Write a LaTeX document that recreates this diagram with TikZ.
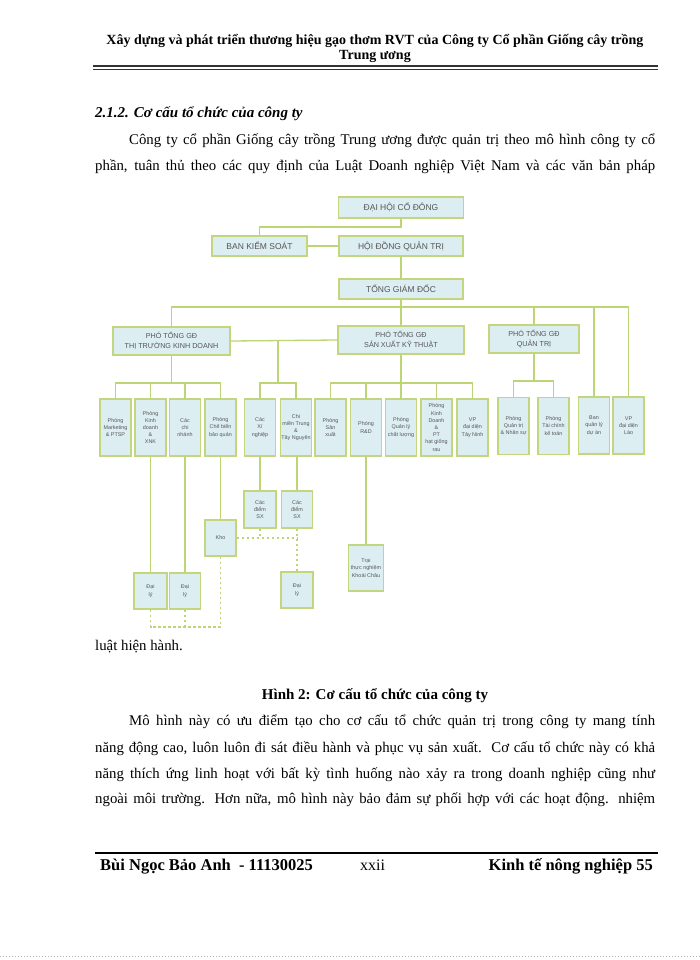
\documentclass[tikz,border=0pt]{standalone}
\usepackage{fontspec}
\setmainfont{Liberation Serif}
\setsansfont{Liberation Sans}
\definecolor{fillcol}{HTML}{DDEEF2}
\definecolor{bdcol}{HTML}{C2D67E}
\definecolor{lncol}{HTML}{BDD574}
\definecolor{txtcol}{HTML}{555555}
\newcommand\myfs[1]{\fontsize{#1}{#1}\selectfont}
\tikzset{
  box/.style={draw=bdcol, fill=fillcol, line width=1.1pt, inner sep=0pt, align=center,
    text=txtcol, font=\sffamily\fontsize{5.4}{7.2}\selectfont},
  bigbox/.style={box, font=\sffamily\fontsize{8.5}{10}\selectfont},
  midbox/.style={box, font=\sffamily\fontsize{7.2}{10.5}\selectfont},
  rowbox/.style={box, minimum width=31pt, minimum height=57pt},
  conn/.style={draw=lncol, line width=1.3pt},
  dconn/.style={draw=lncol, line width=1.1pt, dash pattern=on 2.5pt off 2.5pt},
  bodyl/.style={anchor=base west, inner sep=0pt, font=\myfs{14.8}},
}
\begin{document}
\begin{tikzpicture}[x=1pt,y=-1pt]
\useasboundingbox (0,0) rectangle (700,960);
\fill[white] (0,0) rectangle (700,960);

% ---------- header ----------
\node[anchor=base, inner sep=0pt, font=\bfseries\myfs{14}] (h1) at (375,45)
  {Xây dựng và phát triển thương hiệu gạo thơm RVT của Công ty Cổ phần Giống cây trồng};
\node[anchor=base, inner sep=0pt, font=\bfseries\myfs{14}] (h2) at (375,60) {Trung ương};
\draw[black!80, line width=1.3pt] (93,66) -- (658,66);
\draw[black!80, line width=0.6pt] (93,69) -- (658,69);

% ---------- section text ----------
\node[anchor=base west, inner sep=0pt, font=\bfseries\itshape\myfs{15}] (sec) at (95,118)
  {2.1.2. Cơ cấu tổ chức của công ty};
\node[bodyl] (p1a) at (129,145) {\makebox[526pt][s]{Công ty cổ phần Giống cây trồng Trung ương được quản trị theo mô hình công ty cổ}};
\node[bodyl] (p1b) at (95,171) {\makebox[560pt][s]{phần, tuân thủ theo các quy định của Luật Doanh nghiệp Việt Nam và các văn bản pháp}};

% ---------- chart: top ----------
\node[bigbox, minimum width=125pt, minimum height=21pt] (dhcd) at (401,207.5) {ĐẠI HỘI CỔ ĐÔNG};
\node[bigbox, minimum width=95pt, minimum height=20pt] (bks) at (259.5,246) {BAN KIỂM SOÁT};
\node[bigbox, minimum width=124pt, minimum height=20pt] (hdqt) at (401,246) {HỘI ĐỒNG QUẢN TRỊ};
\node[bigbox, minimum width=124pt, minimum height=20pt] (tgd) at (401,289) {TỔNG GIÁM ĐỐC};

\node[midbox, minimum width=117pt, minimum height=28pt] (pa) at (171.5,341) {PHÓ TỔNG GĐ\\THỊ TRƯỜNG KINH DOANH};
\node[midbox, minimum width=126pt, minimum height=28pt] (pb) at (401,340) {PHÓ TỔNG GĐ\\SẢN XUẤT KỸ THUẬT};
\node[midbox, minimum width=90pt, minimum height=28pt] (pc) at (534,339) {PHÓ TỔNG GĐ\\QUẢN TRỊ};

% ---------- chart: row of departments ----------
\node[rowbox] (b1) at (115.5,427.5) {Phòng\\Marketing\\\& PTSP};
\node[rowbox] (b2) at (150.5,427.5) {Phòng\\Kinh\\doanh\\\&\\XNK};
\node[rowbox] (b3) at (185,427.5) {Các\\chi\\nhánh};
\node[rowbox] (b4) at (220.5,427.5) {Phòng\\Chế biến\\bảo quản};
\node[rowbox] (b5) at (260,427.5) {Các\\Xí\\nghiệp};
\node[rowbox] (b6) at (296,427.5) {Chi\\miền Trung\\\&\\Tây Nguyên};
\node[rowbox] (b7) at (330.5,427.5) {Phòng\\Sản\\xuất};
\node[rowbox] (b8) at (366,427.5) {Phòng\\R\&D};
\node[rowbox] (b9) at (401,427.5) {Phòng\\Quản lý\\chất lượng};
\node[rowbox] (b10) at (436.5,427.5) {Phòng\\Kinh\\Doanh\\\&\\PT\\hạt giống\\rau};
\node[rowbox] (b11) at (472.5,427.5) {VP\\đại diện\\Tây Ninh};
\node[rowbox] (b12) at (513.5,426) {Phòng\\Quản trị\\\& Nhân sự};
\node[rowbox] (b13) at (553.5,426) {Phòng\\Tài chính\\kế toán};
\node[rowbox] (b14) at (594,425.5) {Ban\\quản lý\\dự án};
\node[rowbox] (b15) at (628.5,425.5) {VP\\đại diện\\Lào};

% ---------- chart: lower boxes ----------
\node[box, minimum width=31pt, minimum height=36pt] (kho) at (220.5,538) {Kho};
\node[box, minimum width=32pt, minimum height=37pt] (sx1) at (260,509.5) {Các\\điểm\\SX};
\node[box, minimum width=31pt, minimum height=37pt] (sx2) at (297,509.5) {Các\\điểm\\SX};
\node[box, minimum width=35pt, minimum height=46pt] (trai) at (366,568) {Trại\\thực nghiệm\\Khoái Châu};
\node[box, minimum width=33pt, minimum height=36pt] (dl1) at (150.5,591) {Đại\\lý};
\node[box, minimum width=31pt, minimum height=36pt] (dl2) at (185,591) {Đại\\lý};
\node[box, minimum width=32pt, minimum height=36pt] (dl3) at (297,590) {Đại\\lý};

% ---------- connectors: top ----------
\draw[conn] (dhcd.south) |- (bks.north |- 0,227) -- (bks.north);
\draw[conn] (bks.east) -- (hdqt.west);
\draw[conn] (hdqt.south) -- (tgd.north);
\draw[conn] (tgd.south) -- (tgd.south |- 0,307);
\draw[conn] (pa.north) |- (b15.north |- 0,307) -- (b15.north);
\draw[conn] (pb.north) -- (pb.north |- 0,307);
\draw[conn] (pc.north) -- (pc.north |- 0,307);
\draw[conn] (b14.north) -- (b14.north |- 0,307);

% group 1
\draw[conn] (pa.south) -- (pa.south |- 0,383);
\draw[conn] (b1.north) |- (b4.north |- 0,383) -- (b4.north);
\draw[conn] (b2.north) -- (b2.north |- 0,383);
\draw[conn] (b3.north) -- (b3.north |- 0,383);
% group 2
\coordinate (j2) at (278,341);
\draw[conn] (pa.east) -- (pb.west);
\draw[conn] (j2) -- (j2 |- 0,383);
\draw[conn] (b5.north) |- (b6.north |- 0,383) -- (b6.north);
% group 3
\draw[conn] (pb.south) -- (pb.south |- 0,383);
\draw[conn] (b7.north) |- (b11.north |- 0,383) -- (b11.north);
\draw[conn] (b8.north) -- (b8.north |- 0,383);
\draw[conn] (b9.north) -- (b9.north |- 0,383);
\draw[conn] (b10.north) -- (b10.north |- 0,383);
% group 4
\draw[conn] (pc.south) -- (pc.south |- 0,381);
\draw[conn] (b12.north) |- (b13.north |- 0,381) -- (b13.north);

% ---------- connectors: lower ----------
\draw[conn] (b2.south) -- (dl1.north);
\draw[conn] (b3.south) -- (dl2.north);
\draw[conn] (b4.south) -- (kho.north);
\draw[conn] (b5.south) -- (sx1.north);
\draw[conn] (b6.south -| sx2.north) -- (sx2.north);
\draw[conn] (b8.south) -- (trai.north);

\draw[dconn] (dl1.south) |- (kho.south |- 0,627) -- (kho.south);
\draw[dconn] (dl2.south) -- (dl2.south |- 0,627);
\draw[dconn] (kho.east) -- (kho.east -| sx2.south);
\draw[dconn] (sx1.south) -- (sx1.south |- kho.east);
\draw[dconn] (sx2.south) -- (dl3.north);

% ---------- text after chart ----------
\node[bodyl] (p1c) at (95,650) {luật hiện hành.};
\node[anchor=base, inner sep=0pt, font=\bfseries\myfs{15}] (cap) at (375,699) {Hình 2: Cơ cấu tổ chức của công ty};
\node[bodyl] (q1) at (129,725) {\makebox[526pt][s]{Mô hình này có ưu điểm tạo cho cơ cấu tổ chức quản trị trong công ty mang tính}};
\node[bodyl] (q2) at (95,752) {\makebox[560pt][s]{năng động cao, luôn luôn đi sát điều hành và phục vụ sản xuất.\ \ Cơ cấu tổ chức này có khả}};
\node[bodyl] (q3) at (95,778) {\makebox[560pt][s]{năng thích ứng linh hoạt với bất kỳ tình huống nào xảy ra trong doanh nghiệp cũng như}};
\node[bodyl] (q4) at (95,803) {\makebox[560pt][s]{ngoài môi trường. Hơn nữa, mô hình này bảo đảm sự phối hợp với các hoạt động. nhiệm}};

% ---------- footer ----------
\draw[black, line width=1.5pt] (95,853) -- (658,853);
\node[anchor=base west, inner sep=0pt, font=\bfseries\myfs{16.5}] (f1) at (100,870) {Bùi Ngọc Bảo Anh\ \ - 11130025};
\node[anchor=base west, inner sep=0pt, font=\myfs{16}] (f2) at (360,870) {xxii};
\node[anchor=base east, inner sep=0pt, font=\bfseries\myfs{16.5}] (f3) at (653,870) {Kinh tế nông nghiệp 55};
\draw[black!30, line width=0.6pt, dash pattern=on 1pt off 2pt] (0,956) -- (700,956);
\end{tikzpicture}
\end{document}
